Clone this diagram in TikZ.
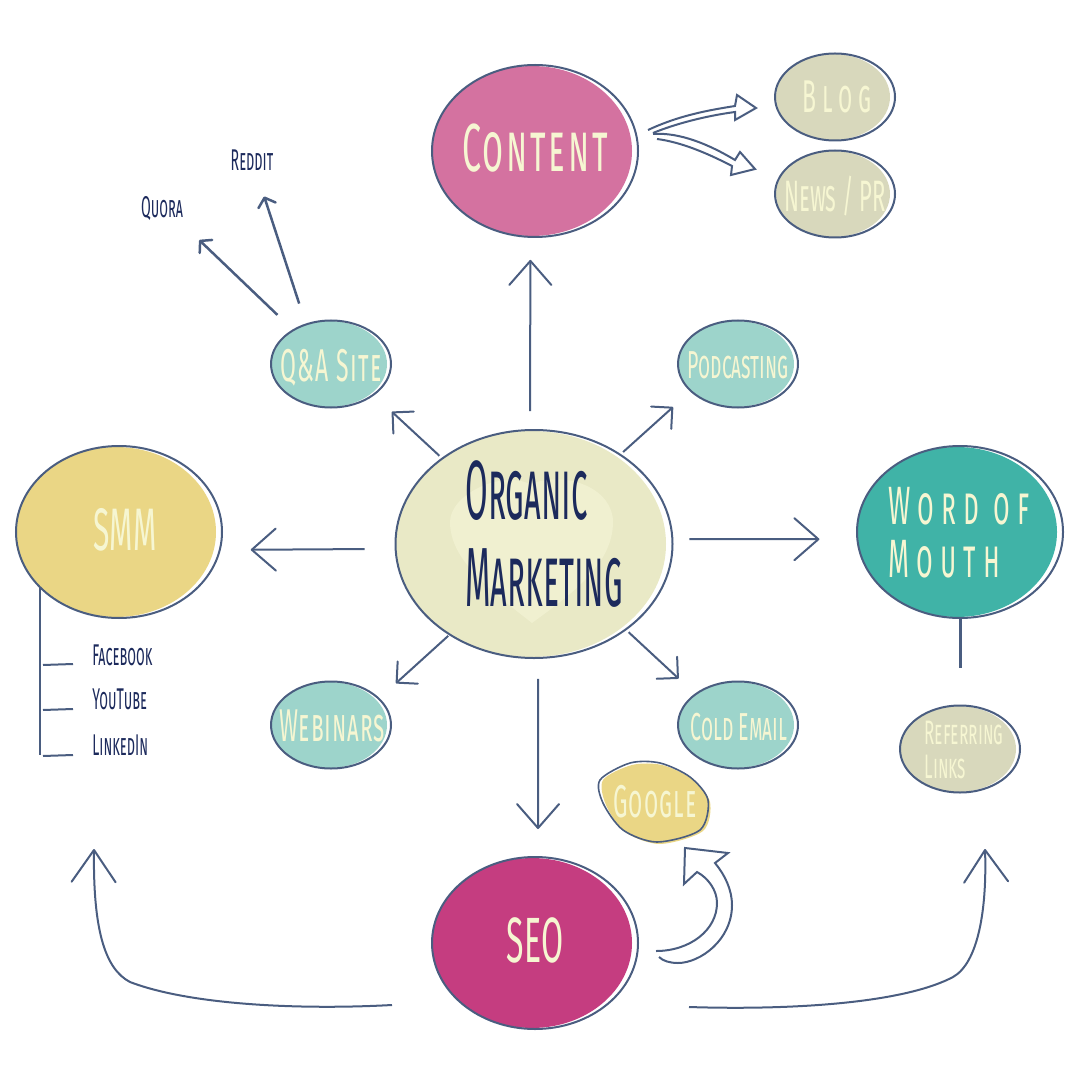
\documentclass[tikz,border=0pt]{standalone}
\usepackage{fontspec}
\usetikzlibrary{arrows.meta,calc,shapes.geometric}
\newfontfamily\handfont[FakeStretch=0.50,Letters=SmallCaps]{Fira Sans}
\newfontfamily\organicfont[FakeStretch=0.39,Letters=SmallCaps]{Fira Sans}
\newfontfamily\leaffont[FakeStretch=0.47,Letters=SmallCaps]{Fira Sans}
\newlength{\du}
\setlength{\du}{0.5pt}
% text that does not size the ellipse: x shift, y raise, text
\newcommand{\bubtext}[3]{\raisebox{#2\du}[0pt][0pt]{\makebox[0pt]{\hspace*{#1\du}\hspace*{#1\du}#3}}}
\tikzset{
  bubble/.style={ellipse,draw=linecolor,line width=2\du,inner sep=0pt,font=\handfont},
  bigbubble/.style={bubble,minimum width=206\du,minimum height=172\du},
  smallbubble/.style={bubble,minimum width=120\du,minimum height=87\du},
  leaflabel/.style={font=\leaffont\fontsize{15}{17}\selectfont,text=navytext,inner sep=1pt},
  mainarrow/.style={draw=linecolor,line width=2\du,-{Straight Barb[length=12pt,width=21pt,round]}},
  curvearrow/.style={draw=linecolor,line width=2\du,-{Straight Barb[length=16pt,width=22pt,round]}},
  smallarrow/.style={draw=linecolor,line width=2\du,-{Straight Barb[length=7.5pt,width=15pt,round]}},
  tinyarrow/.style={draw=linecolor,line width=2.5\du,-{Straight Barb[length=4pt,width=9pt,round]}},
  hollowarrow/.style={draw=linecolor,line width=2\du,line join=miter},
  plainline/.style={draw=linecolor,line width=2\du}
}
\begin{document}
\begin{tikzpicture}
\pgftransformxscale{1.000000}
\pgftransformyscale{-1.000000}
\definecolor{linecolor}{rgb}{0.290000, 0.365000, 0.502000}
\definecolor{navytext}{rgb}{0.110000, 0.165000, 0.361000}
\definecolor{paletext}{rgb}{0.965000, 0.965000, 0.824000}
\definecolor{pinkfill}{rgb}{0.831000, 0.447000, 0.627000}
\definecolor{sagefill}{rgb}{0.847000, 0.847000, 0.737000}
\definecolor{mintfill}{rgb}{0.616000, 0.831000, 0.796000}
\definecolor{creamfill}{rgb}{0.914000, 0.914000, 0.776000}
\definecolor{heartfill}{rgb}{0.941000, 0.941000, 0.816000}
\definecolor{sandfill}{rgb}{0.918000, 0.839000, 0.522000}
\definecolor{tealfill}{rgb}{0.251000, 0.702000, 0.655000}
\definecolor{rosefill}{rgb}{0.773000, 0.239000, 0.502000}
\useasboundingbox (0\du,0\du) rectangle (1080\du,1080\du);
% fills first, a little off the outlines
\fill[pinkfill] (532\du,151\du) ellipse [x radius=100\du,y radius=85\du];
\fill[sagefill] (833\du,97\du) ellipse [x radius=57\du,y radius=43\du];
\fill[sagefill] (833\du,194\du) ellipse [x radius=57\du,y radius=43\du];
\fill[mintfill] (329\du,364\du) ellipse [x radius=58\du,y radius=43\du];
\fill[mintfill] (736\du,364\du) ellipse [x radius=58\du,y radius=43\du];
\fill[creamfill] (531\du,544\du) ellipse [x radius=135\du,y radius=113\du];
\fill[sandfill] (116\du,532\du) ellipse [x radius=100\du,y radius=85\du];
\fill[tealfill] (957\du,532\du) ellipse [x radius=100\du,y radius=85\du];
\fill[mintfill] (329\du,725\du) ellipse [x radius=58\du,y radius=43\du];
\fill[mintfill] (736\du,725\du) ellipse [x radius=58\du,y radius=43\du];
\fill[sagefill] (958\du,749\du) ellipse [x radius=58\du,y radius=43\du];
\fill[rosefill] (532\du,943\du) ellipse [x radius=100\du,y radius=85\du];
% heart
\fill[heartfill] (532\du,623\du) .. controls (490\du,590\du) and (450\du,560\du) .. (450\du,522\du) .. controls (450\du,495\du) and (500\du,470\du) .. (530\du,484\du) .. controls (570\du,470\du) and (613\du,490\du) .. (613\du,522\du) .. controls (613\du,565\du) and (570\du,595\du) .. (532\du,623\du) -- cycle;
% google blob
\fill[sandfill] plot[smooth cycle] coordinates {(603\du,780\du) (632\du,765\du) (662\du,765\du) (692\du,779\du) (710\du,802\du) (703\du,831\du) (660\du,844\du) (625\du,832\du) (606\du,805\du)};
\draw[linecolor,line width=1.6\du] plot[smooth cycle] coordinates {(600\du,780\du) (630\du,763\du) (660\du,763\du) (690\du,777\du) (708\du,800\du) (700\du,830\du) (657\du,842\du) (623\du,830\du) (603\du,803\du)};
% bubbles
\node[bigbubble] (content) at (535\du,151\du){\bubtext{0}{-21}{\fontsize{34}{36}\selectfont\addfontfeature{LetterSpace=4}\color{paletext}Content}};
\node[smallbubble] (blog) at (835\du,97\du){\bubtext{2}{-16}{\fontsize{23}{25}\selectfont\addfontfeature{LetterSpace=13}\color{paletext}Blog}};
\node[smallbubble] (newspr) at (835\du,194\du){\bubtext{0}{-18}{\fontsize{22}{24}\selectfont\color{paletext}News / PR}};
\node[smallbubble] (qasite) at (331\du,364\du){\bubtext{0}{-18}{\fontsize{23}{25}\selectfont\addfontfeature{LetterSpace=3}\color{paletext}Q\&A Site}};
\node[smallbubble] (podcasting) at (738\du,364\du){\bubtext{0}{-14}{\fontsize{19.5}{22}\selectfont\color{paletext}Podcasting}};
\node[bubble,minimum width=277\du,minimum height=228\du] (organic) at (534\du,544\du){\bubtext{10}{-14}{\organicfont\fontsize{42}{43.5}\selectfont\color{navytext}\begin{tabular}[c]{@{}l@{}}Organic\\Marketing\end{tabular}}};
\node[bigbubble] (smm) at (119\du,532\du){\bubtext{6}{-18}{\fontsize{30}{32}\selectfont\color{paletext}SMM}};
\node[bigbubble] (wordofmouth) at (960\du,532\du){\bubtext{-1}{-21}{\fontsize{27}{26}\selectfont\addfontfeature{LetterSpace=13}\color{paletext}\begin{tabular}[c]{@{}l@{}}Word of\\Mouth\end{tabular}}};
\node[smallbubble] (webinars) at (331\du,725\du){\bubtext{1}{-16}{\fontsize{23}{25}\selectfont\addfontfeature{LetterSpace=2}\color{paletext}Webinars}};
\node[smallbubble] (coldemail) at (738\du,725\du){\bubtext{1}{-15}{\fontsize{19.5}{22}\selectfont\color{paletext}Cold Email}};
\node[smallbubble] (referring) at (960\du,749\du){\bubtext{4}{-14}{\fontsize{17}{17}\selectfont\color{paletext}\begin{tabular}[c]{@{}l@{}}Referring\\Links\end{tabular}}};
\node[bigbubble] (seo) at (535\du,943\du){\bubtext{0}{-19}{\fontsize{32}{34}\selectfont\color{paletext}SEO}};
\node[font=\handfont\fontsize{23}{25}\selectfont\addfontfeature{LetterSpace=2.5},text=paletext,inner sep=0pt] (google) at (655\du,802\du){Google};
% small labels
\node[leaflabel] (quora) at (162\du,209\du){Quora};
\node[leaflabel] (reddit) at (252\du,160\du){Reddit};
\node[leaflabel,anchor=west] (facebook) at (90\du,655\du){Facebook};
\node[leaflabel,anchor=west] (youtube) at (90\du,699\du){YouTube};
\node[leaflabel,anchor=west] (linkedin) at (90\du,745\du){LinkedIn};
% arrows out of the middle
\draw[mainarrow,shorten <=18\du,shorten >=22\du] (organic.92) -- (content.-93);
\draw[smallarrow,shorten <=3\du,shorten >=24\du] (organic.137) -- (qasite.-36);
\draw[smallarrow,shorten <=3\du,shorten >=23\du] (organic.46) -- (podcasting.210);
\draw[mainarrow,shorten <=30\du,shorten >=30\du] (organic.182) -- (smm.-10);
\draw[mainarrow,shorten <=16\du,shorten >=37\du] (organic.2) -- (wordofmouth.184);
\draw[smallarrow,shorten <=1\du,shorten >=22\du] (organic.227) -- (webinars.29);
\draw[smallarrow,shorten <=3\du,shorten >=22\du] (organic.-43) -- (coldemail.144);
\draw[mainarrow,shorten <=20\du,shorten >=27\du] (organic.-88) -- (seo.88);
% q and a
\draw[tinyarrow,shorten <=21\du,shorten >=24\du] (qasite.138) -- (quora.-36);
\draw[tinyarrow,shorten <=21\du,shorten >=25\du] (qasite.122) -- (reddit.-71);
% smm list
\draw[plainline] ($(smm.south)+(-79\du,-31\du)$) -- ($(smm.south)+(-79\du,136\du)$);
\draw[plainline] ($(smm.south)+(-76\du,46\du)$) -- ($(facebook.west)+(-17\du,9\du)$);
\draw[plainline] ($(smm.south)+(-76\du,91\du)$) -- ($(youtube.west)+(-17\du,10\du)$);
\draw[plainline] ($(smm.south)+(-76\du,137\du)$) -- ($(linkedin.west)+(-17\du,10\du)$);
% referring links
\draw[plainline,line width=3\du,shorten >=37\du] (wordofmouth.south) -- (referring.north);
% curves out of seo
\draw[curvearrow] ($(seo.west)+(-39\du,62\du)$) .. controls (300\du,1010\du) and (190\du,1005\du) .. (130\du,982\du) .. controls (105\du,969\du) and (93\du,930\du) .. ($(smm.south)+(-25\du,230\du)$);
\draw[curvearrow] ($(seo.east)+(50\du,64\du)$) .. controls (780\du,1010\du) and (900\du,1005\du) .. (953\du,977\du) .. controls (978\du,963\du) and (987\du,910\du) .. ($(wordofmouth.south)+(25\du,230\du)$);
% hollow arrows
\draw[hollowarrow] ($(content.east)+(9\du,-21\du)$) .. controls (680\du,115\du) and (710\du,110\du) .. (735\du,106\du) -- (737\du,95\du) -- ($(blog.west)+(-18\du,11\du)$) -- (735\du,120\du) -- (735\du,112\du) .. controls (705\du,116\du) and (675\du,124\du) .. ($(content.east)+(14\du,-18\du)$);
\draw[hollowarrow] ($(content.east)+(14\du,-17\du)$) .. controls (680\du,132\du) and (710\du,145\du) .. (735\du,160\du) -- (740\du,152\du) -- ($(newspr.west)+(-19\du,-25\du)$) -- (731\du,175\du) -- (732\du,166\du) .. controls (705\du,152\du) and (680\du,142\du) .. ($(content.east)+(18\du,-12\du)$);
\draw[hollowarrow] ($(seo.east)+(17\du,8\du)$) .. controls (690\du,951\du) and (717\du,930\du) .. (717\du,903\du) .. controls (717\du,890\du) and (708\du,878\du) .. (697\du,872\du) -- (684\du,884\du) -- (685\du,848\du) -- (728\du,853\du) -- (715\du,863\du) .. controls (725\du,875\du) and (732\du,890\du) .. (732\du,905\du) .. controls (732\du,940\du) and (700\du,963\du) .. (678\du,963\du) .. controls (670\du,963\du) and (663\du,961\du) .. ($(seo.east)+(20\du,14\du)$);
\end{tikzpicture}
\end{document}
